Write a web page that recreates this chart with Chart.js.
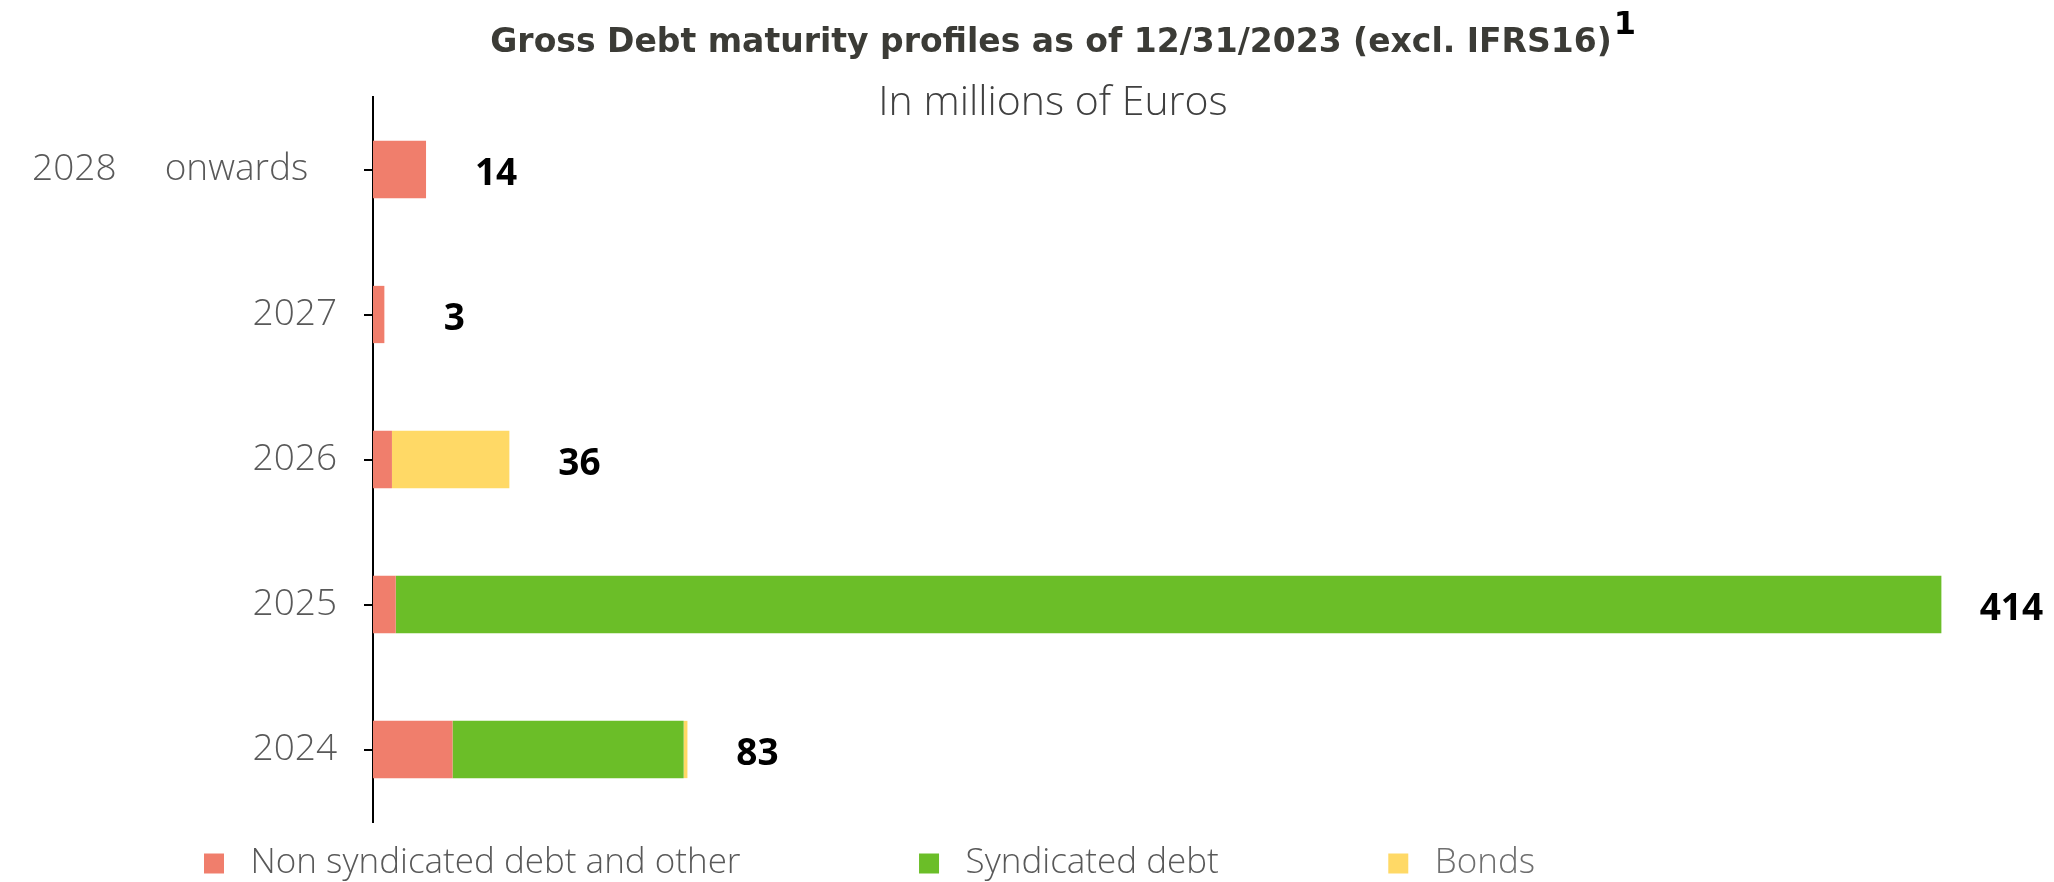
<!DOCTYPE html>
<html>
<head>
<meta charset="utf-8">
<title>Gross Debt maturity profiles</title>
<script src="https://cdn.jsdelivr.net/npm/chart.js@4.4.1/dist/chart.umd.min.js"></script>
<style>
  html, body { margin: 0; padding: 0; background: #fff; }
  #wrap { width: 2054px; height: 882px; position: relative; }
</style>
</head>
<body>
<div id="wrap"><canvas id="chart-debt"></canvas></div>
<script>
// Maturity buckets, bottom to top
const years = ['2024', '2025', '2026', '2027', '2028     onwards   '];

// In millions of euros
const nonSyndicated = [21, 6, 5, 3, 14];
const syndicated = [61, 408, 0, 0, 0];
const bonds = [1, 0, 31, 0, 0];

const seriesNames = ['Non syndicated debt and other', 'Syndicated debt', 'Bonds'];

const titleText = 'Gross Debt maturity profiles as of 12/31/2023 (excl. IFRS16)';
const titleNote = '1';
const unitText = 'In millions of Euros';

const totals = years.map((_, i) => nonSyndicated[i] + syndicated[i] + bonds[i]);

const COLORS = ['#F07E6C', '#6BBE28', '#FFD966'];
const LEGEND_TEXT = ['#595959', '#595959', '#6f6f6f'];
const LEGEND_TAIL = [17, 16, 0];
const LEGEND_LEFT = 180;

function $(id) {
  return document.getElementById(id);
}

// title, footnote marker and unit line above the plot
const headerPlugin = {
  id: 'header',
  afterDraw(chart) {
    const ctx = chart.ctx;
    const cx = chart.width / 2 + 24;
    ctx.save();
    ctx.textBaseline = 'alphabetic';

    ctx.font = 'bold 33px "DejaVu Sans"';
    ctx.fillStyle = '#3b3b36';
    const w = ctx.measureText(titleText).width;
    ctx.textAlign = 'left';
    ctx.fillText(titleText, cx - w / 2, 52);

    ctx.font = 'bold 32px "DejaVu Sans"';
    ctx.fillStyle = '#000';
    ctx.fillText(titleNote, cx + w / 2 + 2, 34);

    ctx.font = '300 41px "Open Sans"';
    ctx.fillStyle = '#404040';
    ctx.textAlign = 'center';
    ctx.fillText(unitText, cx + 2, 115);
    ctx.restore();
  }
};

// bold total to the right of each stacked bar
const totalsPlugin = {
  id: 'totals',
  afterDatasetsDraw(chart) {
    const ctx = chart.ctx;
    const xs = chart.scales.x;
    const ys = chart.scales.y;
    ctx.save();
    ctx.font = '700 37px "Open Sans"';
    ctx.fillStyle = '#000';
    ctx.textAlign = 'center';
    ctx.textBaseline = 'middle';
    totals.forEach((t, i) => {
      const x = xs.getPixelForValue(t) + 70;
      const y = ys.getPixelForValue(i) + 5;
      ctx.fillText(String(t), x, y);
    });
    ctx.restore();
  }
};

// legend row starts under the tick labels rather than at the canvas edge
const legendShift = {
  id: 'legendShift',
  afterLayout(chart) {
    if (chart.legend) chart.legend.left = LEGEND_LEFT;
  }
};

function buildChart() {
  const el = $('chart-debt');
  if (!el) return null;

  const tickFont = { family: '"Open Sans"', size: 37, weight: '300' };

  return new Chart(el, {
    type: 'bar',
    data: {
      labels: years,
      datasets: [
        { label: seriesNames[0], data: nonSyndicated, backgroundColor: COLORS[0] },
        { label: seriesNames[1], data: syndicated, backgroundColor: COLORS[1] },
        { label: seriesNames[2], data: bonds, backgroundColor: COLORS[2] },
      ]
    },
    options: {
      indexAxis: 'y',
      responsive: true,
      maintainAspectRatio: false,
      animation: false,
      datasets: { bar: { categoryPercentage: 1, barPercentage: 0.395, borderWidth: 0 } },
      layout: { padding: { left: 0, right: 52, top: 97, bottom: -9 } },
      scales: {
        x: { stacked: true, display: false, min: 0, max: 430 },
        y: {
          stacked: true,
          reverse: true,
          afterFit: (s) => { s.width = 373; },
          grid: {
            display: true,
            drawOnChartArea: false,
            drawTicks: true,
            tickLength: 9,
            offset: false,
            color: '#000',
            lineWidth: 2
          },
          border: { display: true, color: '#000', width: 2 },
          ticks: { padding: 27, color: '#595959', font: tickFont }
        }
      },
      plugins: {
        title: { display: false },
        tooltip: { enabled: false },
        legend: {
          position: 'bottom',
          align: 'start',
          labels: {
            boxWidth: 20,
            boxHeight: 20,
            padding: 24,
            color: '#595959',
            font: { family: '"Open Sans"', size: 35, weight: '300' },
            generateLabels(chart) {
              const items = Chart.defaults.plugins.legend.labels.generateLabels(chart);
              items.forEach((it, i) => {
                it.text = ' ' + it.text + ' '.repeat(LEGEND_TAIL[i]);
                it.fontColor = LEGEND_TEXT[i];
                it.lineWidth = 0;
              });
              return items;
            }
          }
        }
      }
    },
    plugins: [headerPlugin, totalsPlugin, legendShift]
  });
}

window.onload = buildChart;
</script>
</body>
</html>
